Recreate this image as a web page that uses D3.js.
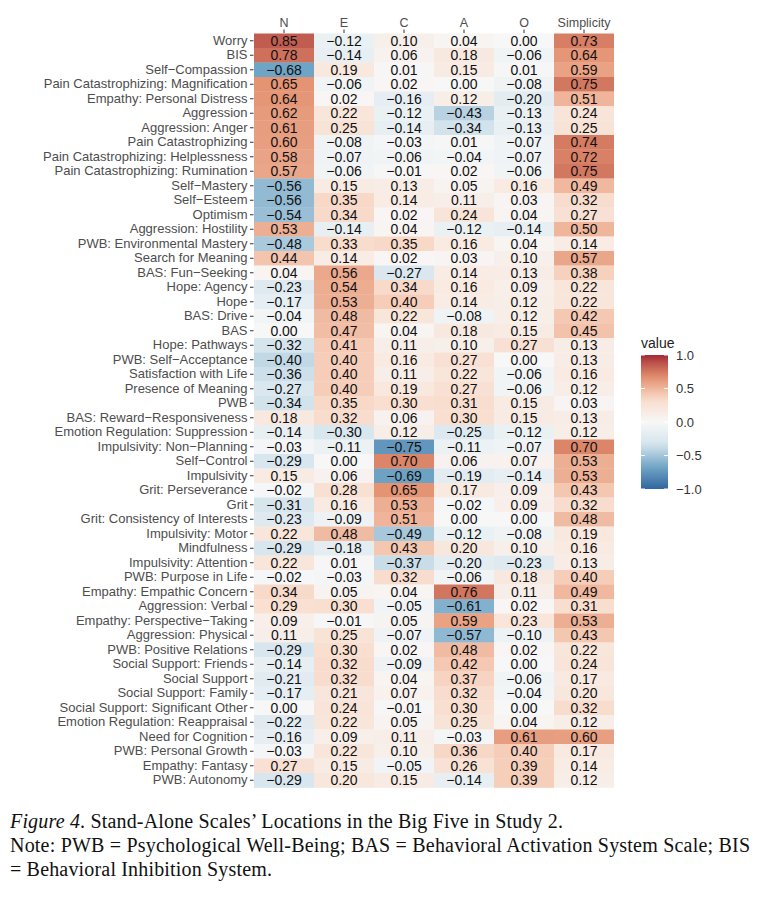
<!DOCTYPE html>
<html>
<head>
<meta charset="utf-8">
<script src="https://cdn.jsdelivr.net/npm/d3@7"></script>
<style>
  body { margin: 0; background: #fff; }
  svg { display: block; }
</style>
</head>
<body>
<svg id="chart" width="758" height="900"></svg>
<script>
// scales in plotted order, top to bottom
const scales = [
  "Worry", "BIS", "Self\u2212Compassion", "Pain Catastrophizing: Magnification",
  "Empathy: Personal Distress", "Aggression", "Aggression: Anger", "Pain Catastrophizing",
  "Pain Catastrophizing: Helplessness", "Pain Catastrophizing: Rumination", "Self\u2212Mastery",
  "Self\u2212Esteem", "Optimism", "Aggression: Hostility", "PWB: Environmental Mastery",
  "Search for Meaning", "BAS: Fun\u2212Seeking", "Hope: Agency", "Hope", "BAS: Drive", "BAS",
  "Hope: Pathways", "PWB: Self\u2212Acceptance", "Satisfaction with Life", "Presence of Meaning",
  "PWB", "BAS: Reward\u2212Responsiveness", "Emotion Regulation: Suppression",
  "Impulsivity: Non\u2212Planning", "Self\u2212Control", "Impulsivity", "Grit: Perseverance", "Grit",
  "Grit: Consistency of Interests", "Impulsivity: Motor", "Mindfulness", "Impulsivity: Attention",
  "PWB: Purpose in Life", "Empathy: Empathic Concern", "Aggression: Verbal",
  "Empathy: Perspective\u2212Taking", "Aggression: Physical", "PWB: Positive Relations",
  "Social Support: Friends", "Social Support", "Social Support: Family",
  "Social Support: Significant Other", "Emotion Regulation: Reappraisal", "Need for Cognition",
  "PWB: Personal Growth", "Empathy: Fantasy", "PWB: Autonomy"
];

const traits = ["N", "E", "C", "A", "O", "Simplicity"];

const valN = [0.85,0.78,-0.68,0.65,0.64,0.62,0.61,0.60,0.58,0.57,-0.56,-0.56,-0.54,0.53,-0.48,0.44,0.04,-0.23,-0.17,-0.04,0.00,-0.32,-0.40,-0.36,-0.27,-0.34,0.18,-0.14,-0.03,-0.29,0.15,-0.02,-0.31,-0.23,0.22,-0.29,0.22,-0.02,0.34,0.29,0.09,0.11,-0.29,-0.14,-0.21,-0.17,0.00,-0.22,-0.16,-0.03,0.27,-0.29];
const valE = [-0.12,-0.14,0.19,-0.06,0.02,0.22,0.25,-0.08,-0.07,-0.06,0.15,0.35,0.34,-0.14,0.33,0.14,0.56,0.54,0.53,0.48,0.47,0.41,0.40,0.40,0.40,0.35,0.32,-0.30,-0.11,0.00,0.06,0.28,0.16,-0.09,0.48,-0.18,0.01,-0.03,0.05,0.30,-0.01,0.25,0.30,0.32,0.32,0.21,0.24,0.22,0.09,0.22,0.15,0.20];
const valC = [0.10,0.06,0.01,0.02,-0.16,-0.12,-0.14,-0.03,-0.06,-0.01,0.13,0.14,0.02,0.04,0.35,0.02,-0.27,0.34,0.40,0.22,0.04,0.11,0.16,0.11,0.19,0.30,0.06,0.12,-0.75,0.70,-0.69,0.65,0.53,0.51,-0.49,0.43,-0.37,0.32,0.04,-0.05,0.05,-0.07,0.02,-0.09,0.04,0.07,-0.01,0.05,0.11,0.10,-0.05,0.15];
const valA = [0.04,0.18,0.15,0.00,0.12,-0.43,-0.34,0.01,-0.04,0.02,0.05,0.11,0.24,-0.12,0.16,0.03,0.14,0.16,0.14,-0.08,0.18,0.10,0.27,0.22,0.27,0.31,0.30,-0.25,-0.11,0.06,-0.19,0.17,-0.02,0.00,-0.12,0.20,-0.20,-0.06,0.76,-0.61,0.59,-0.57,0.48,0.42,0.37,0.32,0.30,0.25,-0.03,0.36,0.26,-0.14];
const valO = [0.00,-0.06,0.01,-0.08,-0.20,-0.13,-0.13,-0.07,-0.07,-0.06,0.16,0.03,0.04,-0.14,0.04,0.10,0.13,0.09,0.12,0.12,0.15,0.27,0.00,-0.06,-0.06,0.15,0.15,-0.12,-0.07,0.07,-0.14,0.09,0.09,0.00,-0.08,0.10,-0.23,0.18,0.11,0.02,0.23,-0.10,0.02,0.00,-0.06,-0.04,0.00,0.04,0.61,0.40,0.39,0.39];
const valSimplicity = [0.73,0.64,0.59,0.75,0.51,0.24,0.25,0.74,0.72,0.75,0.49,0.32,0.27,0.50,0.14,0.57,0.38,0.22,0.22,0.42,0.45,0.13,0.13,0.16,0.12,0.03,0.13,0.12,0.70,0.53,0.53,0.43,0.32,0.48,0.19,0.16,0.13,0.40,0.49,0.31,0.53,0.43,0.22,0.24,0.17,0.20,0.32,0.12,0.60,0.17,0.14,0.12];

const legendTicks = [1.0, 0.5, 0.0, -0.5, -1.0];

const captionLines = [
  "Stand-Alone Scales\u2019 Locations in the Big Five in Study 2.",
  "Note:  PWB = Psychological Well-Being; BAS = Behavioral Activation System Scale; BIS",
  "= Behavioral Inhibition System."
];

const columns = [valN, valE, valC, valA, valO, valSimplicity];
const cells = [];
traits.forEach((t, j) => {
  columns[j].forEach((v, i) => cells.push({ trait: t, scale: scales[i], value: v }));
});

const svg = d3.select("#chart");
const sans = "'Liberation Sans', Arial, Helvetica, sans-serif";

const x = d3.scaleBand().domain(traits).range([254, 614]);
const y = d3.scaleBand().domain(scales).range([33.5, 787.5]);

// RdBu distiller palette, -1..1 (toned down a bit, the figure is a photo)
const rdbu = ["#2166AC", "#67A9CF", "#D1E5F0", "#F7F7F7", "#FDDBC7", "#EF8A62", "#B2182B"];
const base = d3.scaleLinear()
  .domain(d3.range(7).map(k => -1 + k / 3))
  .range(rdbu)
  .interpolate(d3.interpolateLab)
  .clamp(true);
const color = v => {
  const c = d3.hsl(base(v));
  c.s *= 0.82;
  return c.formatHex();
};

const fmt = v => (v < 0 ? "\u2212" : "") + Math.abs(v).toFixed(2);

svg.append("g").selectAll("rect")
  .data(cells)
  .join("rect")
  .attr("x", d => x(d.trait))
  .attr("y", d => y(d.scale))
  .attr("width", x.bandwidth())
  .attr("height", y.bandwidth() + 0.3)
  .attr("fill", d => color(d.value));

svg.append("g").selectAll("text")
  .data(cells)
  .join("text")
  .attr("x", d => x(d.trait) + x.bandwidth() / 2)
  .attr("y", d => y(d.scale) + y.bandwidth() / 2 + 5)
  .attr("text-anchor", "middle")
  .attr("font-family", sans)
  .attr("font-size", 14)
  .attr("fill", "#111")
  .text(d => fmt(d.value));

// axes
const xAxis = svg.append("g")
  .attr("transform", "translate(0,33)")
  .call(d3.axisTop(x).tickSize(3.5).tickPadding(3));
const yAxis = svg.append("g")
  .attr("transform", "translate(253.5,0)")
  .call(d3.axisLeft(y).tickSize(3.5).tickPadding(2.5));
[xAxis, yAxis].forEach(g => {
  g.select(".domain").remove();
  g.selectAll(".tick line").attr("stroke", "#333").attr("stroke-width", 1);
  g.selectAll(".tick text")
    .attr("font-family", sans)
    .attr("fill", "#4d4d4d");
});
xAxis.selectAll(".tick text").attr("font-size", 12.5);
yAxis.selectAll(".tick text").attr("font-size", 13);

// legend
const lg = svg.append("g");
const barX = 641, barW = 27, barTop = 355, barBot = 489;
const ly = d3.scaleLinear().domain([-1, 1]).range([barBot, barTop]);
const defs = svg.append("defs");
const grad = defs.append("linearGradient")
  .attr("id", "lgrad").attr("x1", 0).attr("y1", 1).attr("x2", 0).attr("y2", 0);
d3.range(0, 1.0001, 0.05).forEach(p => {
  grad.append("stop").attr("offset", p).attr("stop-color", color(-1 + 2 * p));
});
lg.append("text")
  .attr("x", barX)
  .attr("y", barTop - 7)
  .attr("font-family", sans)
  .attr("font-size", 14)
  .attr("fill", "#222")
  .text("value");
lg.append("rect")
  .attr("x", barX).attr("y", barTop)
  .attr("width", barW).attr("height", barBot - barTop)
  .attr("fill", "url(#lgrad)");
legendTicks.forEach(t => {
  [barX, barX + barW - 4].forEach(x0 => {
    lg.append("line")
      .attr("x1", x0).attr("x2", x0 + 4)
      .attr("y1", ly(t)).attr("y2", ly(t))
      .attr("stroke", "#fff").attr("stroke-width", 1);
  });
  lg.append("text")
    .attr("x", barX + barW + 8)
    .attr("y", ly(t) + 4.5)
    .attr("font-family", sans)
    .attr("font-size", 13)
    .attr("fill", "#333")
    .text(t < 0 ? "\u2212" + Math.abs(t).toFixed(1) : t.toFixed(1));
});

// caption
const serif = "'Liberation Serif', 'Times New Roman', serif";
const cap = svg.append("g").attr("font-family", serif).attr("font-size", 20).attr("fill", "#111");
const l1 = cap.append("text").attr("x", 10).attr("y", 828);
l1.append("tspan").attr("font-style", "italic").text("Figure 4");
l1.append("tspan").text(". " + captionLines[0]);
l1.attr("textLength", 553).attr("lengthAdjust", "spacing");
cap.append("text").attr("x", 10).attr("y", 852)
  .attr("textLength", 740).attr("lengthAdjust", "spacing")
  .text(captionLines[1]);
cap.append("text").attr("x", 10).attr("y", 876)
  .attr("textLength", 262).attr("lengthAdjust", "spacing")
  .text(captionLines[2]);
</script>
</body>
</html>
